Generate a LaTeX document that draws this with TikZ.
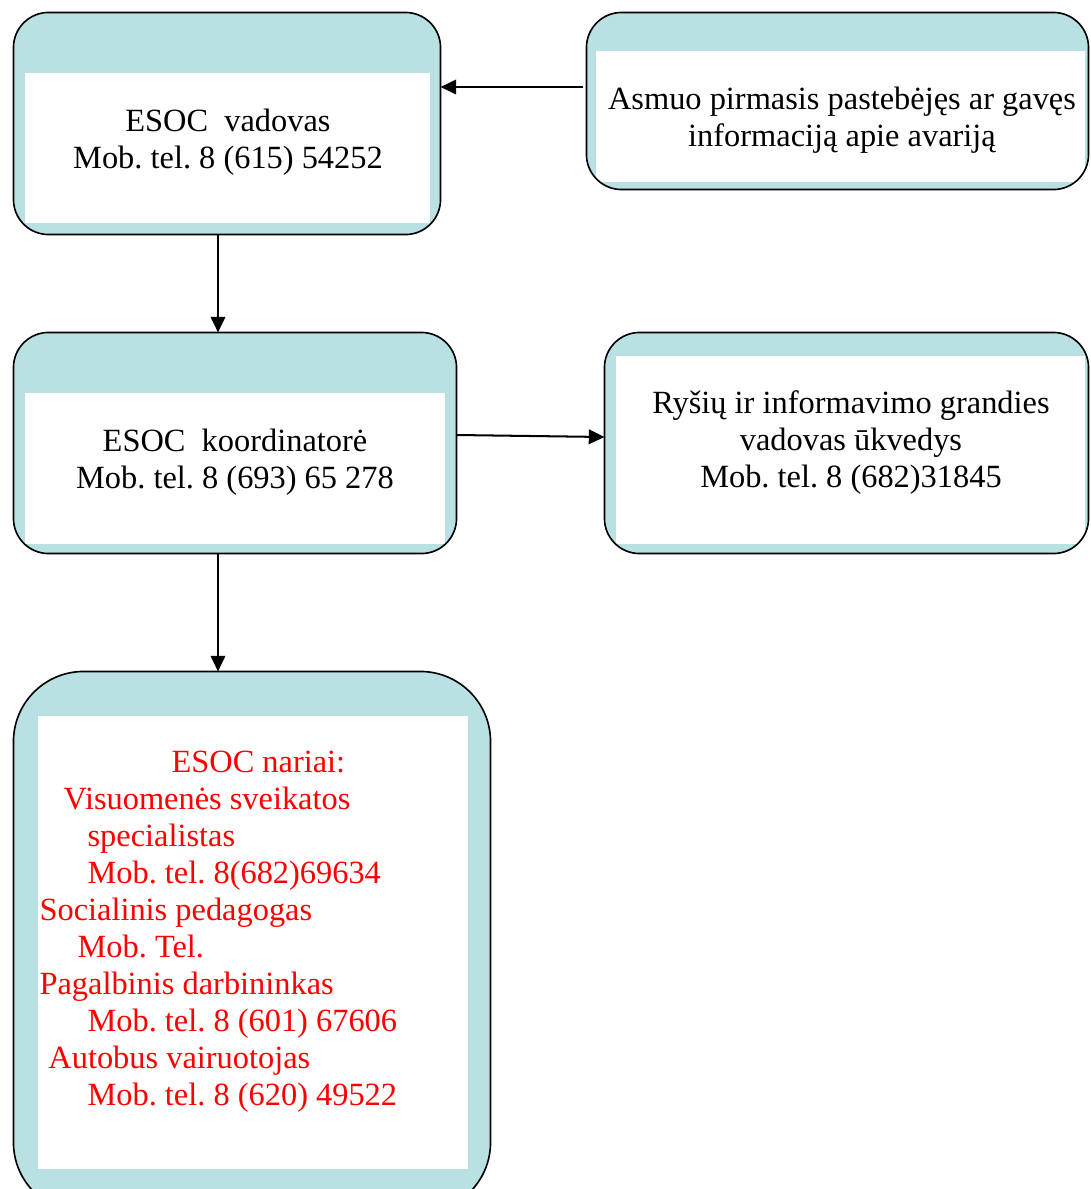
\documentclass[tikz,border=0pt]{standalone}
\usepackage{fontspec}
\setmainfont{Liberation Serif}
\usetikzlibrary{calc,arrows.meta}
\definecolor{boxblue}{RGB}{185,224,227}
\tikzset {>={Triangle[length=5.8pt,width=5.4pt]}}
\tikzset{
  outer/.style={inner sep=0pt},
  txt/.style={align=center,inner sep=0pt,
    font=\fontsize{12}{13.7}\selectfont},
  arr/.style={->,line width=.75pt}}
\frenchspacing

\begin{document}
\begin{tikzpicture}[x=.3704pt,y=-.3704pt]
\useasboundingbox (0,0) rectangle (1091,1189);
\node[outer,minimum width=426*.3704pt,minimum height=221*.3704pt]
  (vad) at (227,123.5) {};
\node[outer,minimum width=501*.3704pt,minimum height=176*.3704pt]
  (asm) at (837.5,101) {};
\node[outer,minimum width=442*.3704pt,minimum height=220*.3704pt]
  (koo) at (235,443) {};
\node[outer,minimum width=483*.3704pt,minimum height=220*.3704pt]
  (rys) at (846.5,443) {};
\node[outer,minimum width=476*.3704pt,minimum height=540*.3704pt]
  (nar) at (252,942) {};
\foreach \b/\r/\nw/\se in {vad/13pt/{12,61}/{-11,-12},asm/13pt/{10,39}/{-4,-8},
    koo/13pt/{12,61}/{-12,-10},rys/13pt/{12,24}/{-4,-10},
    nar/26pt/{25,45}/{-23,-44}}
{
  \begin{scope}
    \clip[rounded corners=\r] (\b.north west) rectangle (\b.south east);
    \fill[boxblue] (\b.north west) rectangle (\b.south east);
    \fill[white] ($(\b.north west)+(\nw)$) rectangle ($(\b.south east)+(\se)$);
  \end{scope}
  \draw[line width=.6pt,rounded corners=\r] (\b.north west) rectangle (\b.south east);
}
\node[txt] (vadtxt) at (228,142)
  {ESOC\ \ vadovas\\Mob. tel. 8 (615) 54252};
\node[txt] (asmtxt) at (842,120)
  {Asmuo pirmasis pastebėjęs ar gavęs\\informaciją apie avariją};
\node[txt] (kootxt) at (235,462)
  {ESOC\ \ koordinatorė\\Mob. tel. 8 (693) 65 278};
\node[txt] (rystxt) at (851,443)
  {Ryšių ir informavimo grandies\\vadovas ūkvedys\\Mob. tel. 8 (682)31845};
\node[txt,align=left,anchor=west,text=red] (nartxt) at (39,932)
  {\hspace*{48.9pt}ESOC nariai:\\
   \hspace*{8.9pt}Visuomenės sveikatos\\
   \hspace*{17.8pt}specialistas\\
   \hspace*{17.8pt}Mob. tel. 8(682)69634\\
   Socialinis pedagogas\\
   \hspace*{14.1pt}Mob. Tel.\\
   Pagalbinis darbininkas\\
   \hspace*{17.8pt}Mob. tel. 8 (601) 67606\\
   \hspace*{3.3pt}Autobus vairuotojas\\
   \hspace*{17.8pt}Mob. tel. 8 (620) 49522};
\coordinate (asmout) at ($(asm.west)+(-3,-14)$);
\coordinate (vadout) at ($(vad.south)+(-9,0)$);
\coordinate (kooout) at ($(koo.south)+(-17,0)$);
\draw[arr] (asmout) -- (asmout -| vad.east);
\draw[arr] (vadout) -- (vadout |- koo.north);
\draw[arr] ($(koo.east)+(0,-8)$) -- ($(rys.west)+(0,-6)$);
\draw[arr] (kooout) -- (kooout |- nar.north);
\end{tikzpicture}
\end{document}
